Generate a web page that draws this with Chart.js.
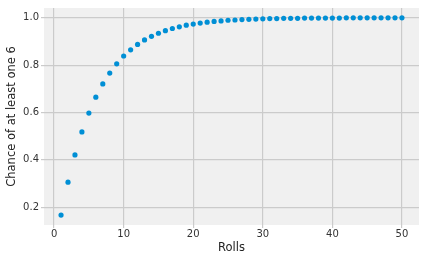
<!DOCTYPE html>
<html>
<head>
<meta charset="utf-8">
<script src="https://cdn.jsdelivr.net/npm/chart.js@4"></script>
<style>
  html, body { margin: 0; padding: 0; background: #ffffff; }
  #wrap { width: 426px; height: 262px; }
</style>
</head>
<body>
<div id="wrap"><canvas id="diceChart" width="426" height="262"></canvas></div>
<script>
const rolls = [1, 2, 3, 4, 5, 6, 7, 8, 9, 10,
    11, 12, 13, 14, 15, 16, 17, 18, 19, 20,
    21, 22, 23, 24, 25, 26, 27, 28, 29, 30,
    31, 32, 33, 34, 35, 36, 37, 38, 39, 40,
    41, 42, 43, 44, 45, 46, 47, 48, 49, 50];
const chance = [0.167, 0.306, 0.421, 0.518, 0.598, 0.665, 0.721, 0.767, 0.806, 0.839,
    0.865, 0.888, 0.907, 0.922, 0.935, 0.946, 0.955, 0.962, 0.969, 0.974,
    0.978, 0.982, 0.985, 0.987, 0.990, 0.991, 0.993, 0.994, 0.995, 0.996,
    0.997, 0.997, 0.998, 0.998, 0.998, 0.999, 0.999, 0.999, 0.999, 0.999,
    0.999, 1.000, 1.000, 1.000, 1.000, 1.000, 1.000, 1.000, 1.000, 1.000];
const xTicks = [0, 10, 20, 30, 40, 50];
const yTicks = [0.2, 0.4, 0.6, 0.8, 1.0];

// fond gris de la zone de tracé (style fivethirtyeight)
const plotBg = {
    id: 'plotBg',
    beforeDraw(chart) {
        const { ctx, chartArea: a } = chart;
        ctx.save();
        ctx.fillStyle = '#ffffff';
        ctx.fillRect(0, 0, chart.width, chart.height);
        ctx.fillStyle = '#f0f0f0';
        ctx.fillRect(a.left, a.top, a.right - a.left, a.bottom - a.top);
        ctx.restore();
    }
};

const ctx = document.getElementById('diceChart').getContext('2d');

new Chart(ctx, {
    type: 'scatter',
    data: {
        datasets: [{
            data: rolls.map((r, i) => ({ x: r, y: chance[i] })),
            backgroundColor: '#008fd5',
            borderColor: '#008fd5',
            borderWidth: 0,
            pointRadius: 2.6
        }]
    },
    options: {
        responsive: false,
        animation: false,
        layout: { padding: { top: 7, right: 7, left: 0, bottom: 0 } },
        plugins: {
            legend: { display: false },
            tooltip: { enabled: false }
        },
        scales: {
            x: {
                type: 'linear',
                min: -1.45,
                max: 52.45,
                afterBuildTicks: s => { s.ticks = xTicks.map(v => ({ value: v })); },
                afterFit: s => { s.height = 37; },
                grid: { color: '#cbcbcb', lineWidth: 1.2, tickLength: 3 },
                border: { display: false },
                ticks: {
                    color: '#333333',
                    padding: 0,
                    font: { family: 'DejaVu Sans', size: 10 },
                    maxRotation: 0
                },
                title: {
                    display: true,
                    text: 'Rolls',
                    color: '#222222',
                    padding: { top: 0, bottom: 7 },
                    font: { family: 'DejaVu Sans', size: 11.5 }
                }
            },
            y: {
                min: 0.125,
                max: 1.0417,
                afterBuildTicks: s => { s.ticks = yTicks.map(v => ({ value: v })); },
                afterFit: s => { s.width = 44; },
                grid: { color: '#cbcbcb', lineWidth: 1.2, tickLength: 3 },
                border: { display: false },
                ticks: {
                    color: '#333333',
                    padding: 2,
                    font: { family: 'DejaVu Sans', size: 10 },
                    callback: v => v.toFixed(1)
                },
                title: {
                    display: true,
                    text: 'Chance of at least one 6',
                    color: '#222222',
                    padding: { top: 5, bottom: 0 },
                    font: { family: 'DejaVu Sans', size: 11.5 }
                }
            }
        }
    },
    plugins: [plotBg]
});
</script>
</body>
</html>
